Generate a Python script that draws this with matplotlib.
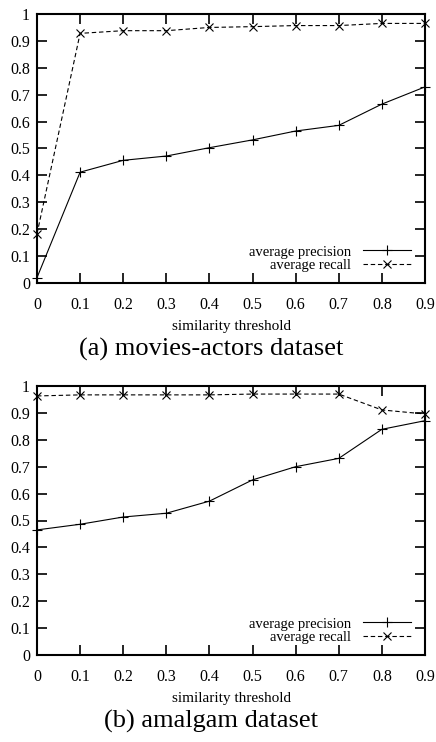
import matplotlib
matplotlib.use("Agg")
import matplotlib.pyplot as plt

plt.rcParams['font.family'] = ['Liberation Serif', 'DejaVu Serif']

thresholds = [0, 0.1, 0.2, 0.3, 0.4, 0.5, 0.6, 0.7, 0.8, 0.9]
x_ticklabels = ["0", "0.1", "0.2", "0.3", "0.4", "0.5", "0.6", "0.7", "0.8", "0.9"]
y_ticks = [0, 0.1, 0.2, 0.3, 0.4, 0.5, 0.6, 0.7, 0.8, 0.9, 1]
y_ticklabels = ["0", "0.1", "0.2", "0.3", "0.4", "0.5", "0.6", "0.7", "0.8", "0.9", "1"]

# (a) movies-actors dataset
movies_precision = [0.02, 0.412, 0.456, 0.472, 0.503, 0.532, 0.565, 0.586, 0.665, 0.729]
movies_recall = [0.183, 0.928, 0.938, 0.938, 0.950, 0.953, 0.957, 0.957, 0.965, 0.965]

# (b) amalgam dataset
amalgam_precision = [0.465, 0.486, 0.513, 0.527, 0.572, 0.651, 0.700, 0.731, 0.839, 0.871]
amalgam_recall = [0.963, 0.967, 0.967, 0.967, 0.967, 0.970, 0.970, 0.970, 0.911, 0.896]

captions = ["(a) movies-actors dataset", "(b) amalgam dataset"]

fig = plt.figure(figsize=(4.36, 7.42), dpi=100)
W, H = 436, 742
boxes = [(37, 14, 425, 283), (37, 386, 425, 655)]
datasets = [(movies_precision, movies_recall), (amalgam_precision, amalgam_recall)]

for (l, t, r, b), (prec, rec), cap in zip(boxes, datasets, captions):
    ax = fig.add_axes([l / W, 1 - b / H, (r - l) / W, (b - t) / H])
    ax.plot(thresholds, prec, color="black", linestyle="-", linewidth=0.8,
            marker="+", markersize=7, markeredgewidth=0.8, label="average precision",
            clip_on=False)
    ax.plot(thresholds, rec, color="black", linestyle=(0, (4, 2.5)), linewidth=0.8,
            marker="x", markersize=6, markeredgewidth=0.8, label="average recall",
            clip_on=False)
    ax.set_xlim(0, 0.9)
    ax.set_ylim(0, 1)
    ax.set_xticks(thresholds)
    ax.set_xticklabels(x_ticklabels)
    ax.set_yticks(y_ticks)
    ax.set_yticklabels(y_ticklabels)
    ax.tick_params(direction="in", top=True, right=True, length=7, width=1.2,
                   labelsize=11.5)
    ax.tick_params(axis="x", pad=10)
    ax.tick_params(axis="y", pad=5)
    for s in ax.spines.values():
        s.set_linewidth(1.5)
    ax.set_xlabel("similarity threshold", fontsize=11, labelpad=5)
    leg = ax.legend(loc="lower right", frameon=False, markerfirst=False,
                    fontsize=10.5, handlelength=3.3, handletextpad=0.8,
                    labelspacing=0.0, borderaxespad=0.0,
                    bbox_to_anchor=(0.978, 0.02))
    for txt in leg.get_texts():
        txt.set_ha("right")
    fig.text(211 / W, 1 - (b + 66) / H, cap,
             ha="center", va="center", fontsize=19)

fig.savefig("out.png", dpi=100)
